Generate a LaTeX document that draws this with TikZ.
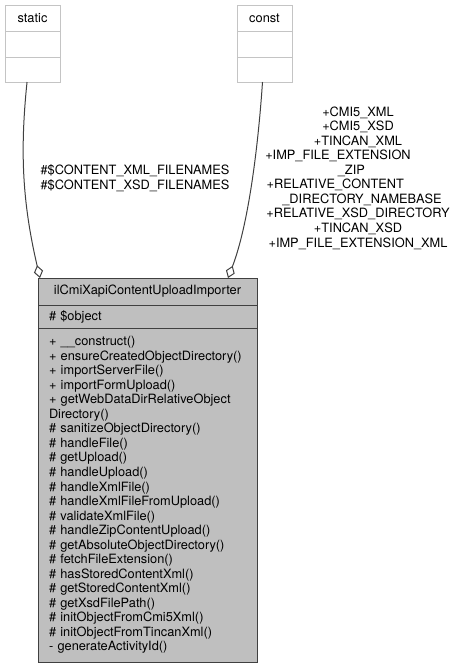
\documentclass[tikz,border=0pt]{standalone}
\usepackage{fontspec}
\setmainfont{TeX Gyre Heros}
\usetikzlibrary{positioning,arrows.meta}
\definecolor{classfill}{HTML}{BFBFBF}
\definecolor{classline}{HTML}{404040}
\definecolor{otherline}{HTML}{C4C4C4}
\tikzstyle{part} = [rectangle, minimum width=41.25pt, draw=otherline, line width=0.75pt, outer sep=0pt, inner sep=0pt]
\tikzstyle{classpart} = [rectangle, text width=147.75pt, inner xsep=8.25pt, inner ysep=0pt, draw=classline, fill=classfill, line width=0.75pt, outer sep=0pt, align=left]
\tikzstyle{member} = [classline, line width=0.75pt, -{Diamond[open,length=9.75pt,width=7pt]}]
\tikzstyle{lbl} = [align=center, inner sep=0pt]

\begin{document}
\begin{tikzpicture}[x=0.75pt, y=-0.75pt, font=\fontsize{9.6pt}{10.9pt}\selectfont]
    \useasboundingbox (0,0) rectangle (461,668);

    \node (staticHead) [part, minimum height=19.5pt] at (32.5,18) {static};
    \node (staticAttr) [part, minimum height=19.5pt, below=0pt of staticHead] {};
    \node (staticOps) [part, minimum height=18.75pt, below=0pt of staticAttr] {};

    \node (constHead) [part, minimum height=19.5pt] at (264.5,18) {const};
    \node (constAttr) [part, minimum height=19.5pt, below=0pt of constHead] {};
    \node (constOps) [part, minimum height=18.75pt, below=0pt of constAttr] {};

    \node (classHead) [classpart, align=center, minimum height=20.25pt] at (147.5,291.5) {ilCmiXapiContentUploadImporter};
    \node (classAttr) [classpart, minimum height=17.25pt, below=0pt of classHead] {\# \$object};
    \node (classOps) [classpart, minimum height=250.5pt, below=0pt of classAttr] {+ \_\_construct()\\
      + ensureCreatedObjectDirectory()\\
      + importServerFile()\\
      + importFormUpload()\\
      + getWebDataDirRelativeObject\\
      Directory()\\
      \# sanitizeObjectDirectory()\\
      \# handleFile()\\
      \# getUpload()\\
      \# handleUpload()\\
      \# handleXmlFile()\\
      \# handleXmlFileFromUpload()\\
      \# validateXmlFile()\\
      \# handleZipContentUpload()\\
      \# getAbsoluteObjectDirectory()\\
      \# fetchFileExtension()\\
      \# hasStoredContentXml()\\
      \# getStoredContentXml()\\
      \# getXsdFilePath()\\
      \# initObjectFromCmi5Xml()\\
      \# initObjectFromTincanXml()\\
      - generateActivityId()};

    \node (staticLabel) [lbl] at (135,178) {\#\$CONTENT\_XML\_FILENAMES\\\#\$CONTENT\_XSD\_FILENAMES};
    \node (constLabel) [lbl] at (358,178) {+CMI5\_XML\\+CMI5\_XSD\\+TINCAN\_XML\\
      +IMP\_FILE\_EXTENSION\rule{30pt}{0pt}\\\_ZIP\rule{10pt}{0pt}\\
      +RELATIVE\_CONTENT\rule{34pt}{0pt}\\\rule{6pt}{0pt}\_DIRECTORY\_NAMEBASE\\
      +RELATIVE\_XSD\_DIRECTORY\\+TINCAN\_XSD\\+IMP\_FILE\_EXTENSION\_XML};

    \draw[member] ([xshift=-4.1pt]staticOps.south) .. controls +(-7,68) and +(-18,-77) .. ([xshift=1.5pt]classHead.north west);
    \draw[member] ([xshift=-1.5pt]constOps.south) .. controls +(-4.6,68) and +(20,-52) .. ([xshift=-21.75pt]classHead.north east);
\end{tikzpicture}
\end{document}
